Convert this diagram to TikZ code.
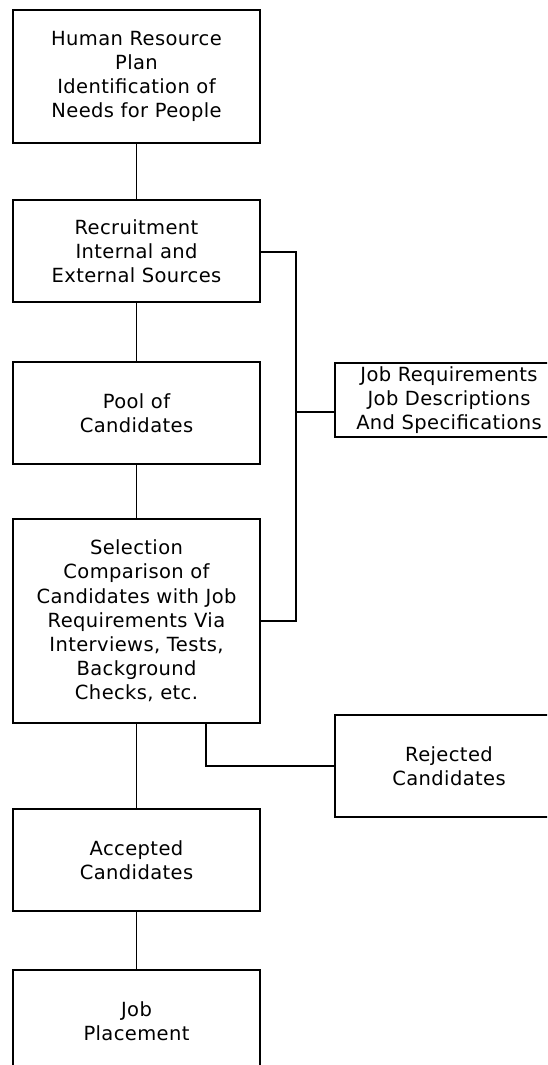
\documentclass[tikz,border=0pt]{standalone}
\usepackage{fontspec}
\setmainfont[LetterSpace=2]{DejaVu Sans}
\begin{document}
\begin{tikzpicture}[x=1pt,y=-1pt,
  box/.style={draw=black, line width=1.8pt, rectangle, inner sep=0pt,
    minimum width=247pt, align=center,
    font=\fontsize{19.5}{24.2}\selectfont},
  sidebox/.style={box, minimum width=228pt},
  link/.style={draw=black, line width=1.8pt}]
\clip (0,0) rectangle (547,1065);
\fill[white] (0,0) rectangle (547,1065);

% main column
\node[box, minimum height=133pt] (hr) at (136.5,76.5)
  {Human Resource\\Plan\\Identification of\\Needs for People};
\node[box, minimum height=102pt] (rec) at (136.5,251)
  {Recruitment\\Internal and\\External Sources};
\node[box, minimum height=102pt] (pool) at (136.5,413)
  {Pool of\\Candidates};
\node[box, minimum height=204pt] (sel) at (136.5,621)
  {Selection\\Comparison of\\Candidates with Job\\Requirements Via\\Interviews, Tests,\\Background\\Checks, etc.};
\node[box, minimum height=102pt] (acc) at (136.5,860)
  {Accepted\\Candidates};
\node[box, minimum height=103pt] (place) at (136.5,1021.5)
  {Job\\Placement};

% side boxes
\node[sidebox, minimum height=74pt] (req) at (449,400)
  {Job Requirements\\Job Descriptions\\And Specifications};
\node[sidebox, minimum height=102pt] (rej) at (449,766)
  {Rejected\\Candidates};

% vertical links of the main column
\draw[link] (hr.south) -- (rec.north);
\draw[link] (rec.south) -- (pool.north);
\draw[link] (pool.south) -- (sel.north);
\draw[link] (sel.south) -- (acc.north);
\draw[link] (acc.south) -- (place.north);

% job requirements feed recruitment and selection
\coordinate (bus) at (296,412);
\draw[link] (rec.east |- 0,252) -| (bus) |- (sel.east);
\draw[link] (bus) -- (req.west |- bus);

% rejected candidates branch
\coordinate (rejtap) at (206,723);
\draw[link] (rejtap) |- (rej.west);
\end{tikzpicture}
\end{document}
